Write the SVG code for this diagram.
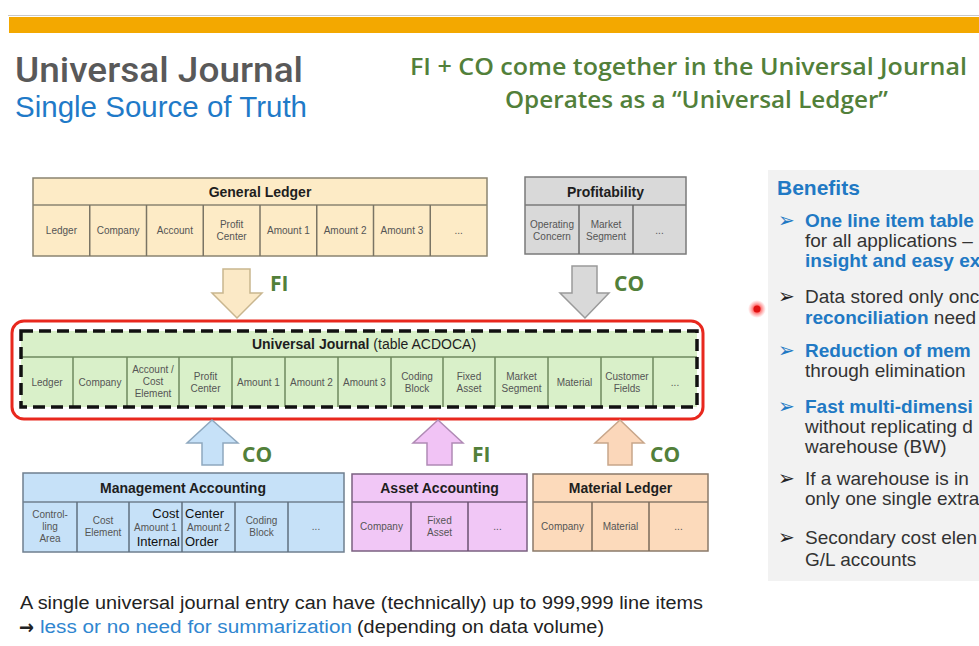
<svg xmlns="http://www.w3.org/2000/svg" width="979" height="646" viewBox="0 0 979 646">
<defs>
<style>
.f{font-family:"Liberation Sans",Arial,sans-serif}
.cell{font-family:"Liberation Sans",Arial,sans-serif;font-size:10px;fill:#555;text-anchor:middle}
.hdr{font-family:"Liberation Sans",Arial,sans-serif;font-size:14px;font-weight:bold;fill:#1e1e1e;text-anchor:middle}
.big{font-family:"Liberation Sans",Arial,sans-serif;font-size:13px;fill:#111}
.grn{font-family:"Open Sans","Liberation Sans",sans-serif;font-weight:600;fill:#52803a}
.lbl{font-family:"Open Sans","Liberation Sans",sans-serif;font-weight:bold;font-size:21px;fill:#52803a}
.ben{font-family:"Liberation Sans",Arial,sans-serif;font-size:19px;fill:#333}
.bb{font-weight:bold;fill:#2179c4}
.bul{font-family:"DejaVu Sans",sans-serif;font-size:20px}
.div{stroke-width:1.5}
</style>
<clipPath id="clipR"><rect x="0" y="0" width="979" height="646"/></clipPath>
<radialGradient id="dot"><stop offset="0" stop-color="#ff1010"/><stop offset="0.4" stop-color="#ff2a2a"/><stop offset="1" stop-color="#ff6060" stop-opacity="0"/></radialGradient>
</defs>
<rect width="979" height="646" fill="#ffffff"/>
<line x1="8" y1="15.5" x2="979" y2="15.5" stroke="#c8c8c8" stroke-width="1"/>
<rect x="9" y="17" width="970" height="16" fill="#f3a800"/>

<g id="title">
<text x="15" y="82" font-family="Roboto,'Liberation Sans',sans-serif" font-weight="500" font-size="35" fill="#595959" textLength="288" lengthAdjust="spacingAndGlyphs">Universal Journal</text>
<text class="f" x="15" y="117" font-size="30" fill="#1f7ac8" textLength="292" lengthAdjust="spacingAndGlyphs">Single Source of Truth</text>
<text class="grn" x="410" y="75" font-size="24" textLength="557" lengthAdjust="spacingAndGlyphs">FI + CO come together in the Universal Journal</text>
<text class="grn" x="505" y="108" font-size="24" textLength="383" lengthAdjust="spacingAndGlyphs">Operates as a “Universal Ledger”</text>
</g>

<g id="general-ledger">
<rect x="33" y="178" width="454" height="78" fill="#fdebc6" stroke="#8a8470" stroke-width="1.5"/>
<line x1="33" y1="205" x2="487" y2="205" stroke="#8a8470" class="div"/>
<g stroke="#7a7464" class="div">
<line x1="89.75" y1="205" x2="89.75" y2="256"/><line x1="146.5" y1="205" x2="146.5" y2="256"/>
<line x1="203.25" y1="205" x2="203.25" y2="256"/><line x1="260" y1="205" x2="260" y2="256"/>
<line x1="316.75" y1="205" x2="316.75" y2="256"/><line x1="373.5" y1="205" x2="373.5" y2="256"/>
<line x1="430.25" y1="205" x2="430.25" y2="256"/>
</g>
<text class="hdr" x="260" y="197">General Ledger</text>
<text class="cell" x="61.4" y="234">Ledger</text>
<text class="cell" x="118.1" y="234">Company</text>
<text class="cell" x="174.9" y="234">Account</text>
<text class="cell" x="231.6" y="228">Profit</text><text class="cell" x="231.6" y="240">Center</text>
<text class="cell" x="288.4" y="234">Amount 1</text>
<text class="cell" x="345.1" y="234">Amount 2</text>
<text class="cell" x="401.9" y="234">Amount 3</text>
<text class="cell" x="458.6" y="234">...</text>
</g>

<g id="profitability">
<rect x="525" y="177" width="161" height="77" fill="#d9d9d9" stroke="#7a7a7a" stroke-width="1.5"/>
<line x1="525" y1="205" x2="686" y2="205" stroke="#7a7a7a" class="div"/>
<line x1="579" y1="205" x2="579" y2="254" stroke="#6a6a6a" class="div"/>
<line x1="633" y1="205" x2="633" y2="254" stroke="#6a6a6a" class="div"/>
<text class="hdr" x="605.5" y="197">Profitability</text>
<text class="cell" x="552" y="228">Operating</text><text class="cell" x="552" y="240">Concern</text>
<text class="cell" x="606" y="228">Market</text><text class="cell" x="606" y="240">Segment</text>
<text class="cell" x="659.5" y="234">...</text>
</g>

<g id="universal-journal">
<rect x="12" y="321" width="691" height="98" rx="12" fill="#ffffff" stroke="#e8281e" stroke-width="3"/>
<rect x="21" y="331" width="676" height="76" fill="#d9f0c9"/>
<line x1="21" y1="357" x2="697" y2="357" stroke="#6e8a5e" class="div"/>
<g stroke="#6e8a5e" class="div">
<line x1="73" y1="357" x2="73" y2="407"/><line x1="127" y1="357" x2="127" y2="407"/>
<line x1="179" y1="357" x2="179" y2="407"/><line x1="232" y1="357" x2="232" y2="407"/>
<line x1="285" y1="357" x2="285" y2="407"/><line x1="338" y1="357" x2="338" y2="407"/>
<line x1="391" y1="357" x2="391" y2="407"/><line x1="443" y1="357" x2="443" y2="407"/>
<line x1="495" y1="357" x2="495" y2="407"/><line x1="548" y1="357" x2="548" y2="407"/>
<line x1="601" y1="357" x2="601" y2="407"/><line x1="653" y1="357" x2="653" y2="407"/>
</g>
<rect x="21" y="331" width="676" height="76" fill="none" stroke="#111" stroke-width="3.5" stroke-dasharray="12 6"/>
<text class="hdr" x="364" y="349">Universal Journal <tspan font-weight="normal">  (table ACDOCA)</tspan></text>
<text class="cell" x="47" y="386">Ledger</text>
<text class="cell" x="100" y="386">Company</text>
<text class="cell" x="153" y="373">Account /</text><text class="cell" x="153" y="385">Cost</text><text class="cell" x="153" y="397">Element</text>
<text class="cell" x="205.5" y="380">Profit</text><text class="cell" x="205.5" y="392">Center</text>
<text class="cell" x="258.5" y="386">Amount 1</text>
<text class="cell" x="311.5" y="386">Amount 2</text>
<text class="cell" x="364.5" y="386">Amount 3</text>
<text class="cell" x="417" y="380">Coding</text><text class="cell" x="417" y="392">Block</text>
<text class="cell" x="469" y="380">Fixed</text><text class="cell" x="469" y="392">Asset</text>
<text class="cell" x="521.5" y="380">Market</text><text class="cell" x="521.5" y="392">Segment</text>
<text class="cell" x="574.5" y="386">Material</text>
<text class="cell" x="627" y="380">Customer</text><text class="cell" x="627" y="392">Fields</text>
<text class="cell" x="675" y="386">...</text>
</g>

<g id="management-accounting">
<rect x="23" y="473" width="321" height="79" fill="#c6e1f8" stroke="#6f7f8f" stroke-width="1.5"/>
<line x1="23" y1="502" x2="344" y2="502" stroke="#6f7f8f" class="div"/>
<g stroke="#5f6f7f" class="div">
<line x1="77" y1="502" x2="77" y2="552"/><line x1="129" y1="502" x2="129" y2="552"/>
<line x1="182" y1="502" x2="182" y2="552"/><line x1="235" y1="502" x2="235" y2="552"/>
<line x1="288" y1="502" x2="288" y2="552"/>
</g>
<text class="hdr" x="183" y="493">Management Accounting</text>
<text class="cell" x="50" y="518">Control-</text><text class="cell" x="50" y="530">ling</text><text class="cell" x="50" y="542">Area</text>
<text class="cell" x="103" y="524">Cost</text><text class="cell" x="103" y="536">Element</text>
<text class="big" x="179" y="518" text-anchor="end">Cost</text>
<text class="cell" x="155.5" y="531">Amount 1</text>
<text class="big" x="180" y="546" text-anchor="end">Internal</text>
<text class="big" x="185" y="518">Center</text>
<text class="cell" x="208.5" y="531">Amount 2</text>
<text class="big" x="185" y="546">Order</text>
<text class="cell" x="261.5" y="524">Coding</text><text class="cell" x="261.5" y="536">Block</text>
<text class="cell" x="316" y="530">...</text>
</g>

<g id="asset-accounting">
<rect x="352" y="474" width="175" height="77" fill="#f1c7f6" stroke="#7a6080" stroke-width="1.5"/>
<line x1="352" y1="502" x2="527" y2="502" stroke="#7a6080" class="div"/>
<line x1="411" y1="502" x2="411" y2="551" stroke="#6a5070" class="div"/>
<line x1="468" y1="502" x2="468" y2="551" stroke="#6a5070" class="div"/>
<text class="hdr" x="439.5" y="493">Asset Accounting</text>
<text class="cell" x="381.5" y="530">Company</text>
<text class="cell" x="439.5" y="524">Fixed</text><text class="cell" x="439.5" y="536">Asset</text>
<text class="cell" x="497.5" y="530">...</text>
</g>

<g id="material-ledger">
<rect x="533" y="474" width="175" height="77" fill="#fcdabb" stroke="#8a7a6a" stroke-width="1.5"/>
<line x1="533" y1="502" x2="708" y2="502" stroke="#8a7a6a" class="div"/>
<line x1="592" y1="502" x2="592" y2="551" stroke="#7a6a5a" class="div"/>
<line x1="649" y1="502" x2="649" y2="551" stroke="#7a6a5a" class="div"/>
<text class="hdr" x="620.5" y="493">Material  Ledger</text>
<text class="cell" x="562.5" y="530">Company</text>
<text class="cell" x="620.5" y="530">Material</text>
<text class="cell" x="678.5" y="530">...</text>
</g>

<g id="connectors">
<polygon points="223,269 250,269 250,293 262,293 237,318 212,293 223,293" fill="#fbe9c6" stroke="#c9b68f" stroke-width="1.5"/>
<text class="lbl" x="270" y="291">FI</text>
<polygon points="572,266 597,266 597,293 609,293 585,318 560,293 572,293" fill="#d9d9d9" stroke="#9a9a9a" stroke-width="1.5"/>
<text class="lbl" x="614" y="291">CO</text>
<polygon points="212,420 238,443 223,443 223,465 202,465 202,443 187,443" fill="#c6e1f8" stroke="#8ea8bf" stroke-width="1.5"/>
<text class="lbl" x="242" y="462">CO</text>
<polygon points="438,420 463,443 452,443 452,465 427,465 427,443 413,443" fill="#f1c3f5" stroke="#b08ab5" stroke-width="1.5"/>
<text class="lbl" x="472" y="462">FI</text>
<polygon points="620,420 644,443 632,443 632,465 608,465 608,443 595,443" fill="#fbd7ba" stroke="#c8a68a" stroke-width="1.5"/>
<text class="lbl" x="650" y="462">CO</text>
</g>

<g id="benefits" clip-path="url(#clipR)">
<rect x="768" y="170" width="215" height="411" fill="#f2f2f2"/>
<text class="f" x="777" y="195" font-size="21" font-weight="bold" fill="#2179c4">Benefits</text>
<text class="bul" x="778" y="227" fill="#2179c4">➢</text>
<text class="ben bb" x="805" y="227">One line item table</text>
<text class="ben" x="805" y="247">for all applications –</text>
<text class="ben bb" x="805" y="267">insight and easy ex</text>
<text class="bul" x="778" y="303" fill="#222">➢</text>
<text class="ben" x="805" y="303">Data stored only onc</text>
<text class="ben" x="805" y="324"><tspan class="bb">reconciliation</tspan> need</text>
<text class="bul" x="778" y="357" fill="#2179c4">➢</text>
<text class="ben bb" x="805" y="357">Reduction of mem</text>
<text class="ben" x="805" y="377">through elimination</text>
<text class="bul" x="778" y="413" fill="#2179c4">➢</text>
<text class="ben bb" x="805" y="413">Fast multi-dimensi</text>
<text class="ben" x="805" y="433">without replicating d</text>
<text class="ben" x="805" y="453">warehouse (BW)</text>
<text class="bul" x="778" y="485" fill="#222">➢</text>
<text class="ben" x="805" y="485">If a warehouse is in</text>
<text class="ben" x="805" y="505">only one single extra</text>
<text class="bul" x="778" y="544" fill="#222">➢</text>
<text class="ben" x="805" y="544">Secondary cost elen</text>
<text class="ben" x="805" y="566">G/L accounts</text>
</g>

<circle cx="757" cy="309" r="9" fill="url(#dot)" opacity="0.7"/>
<circle cx="757" cy="309" r="3.5" fill="#e01010"/>

<g id="footer">
<text class="f" x="20" y="609" font-size="18" fill="#222" textLength="683" lengthAdjust="spacingAndGlyphs">A single universal journal entry can have (technically) up to 999,999 line items</text>
<text x="19" y="634" font-family="'DejaVu Sans',sans-serif" font-weight="bold" font-size="20" fill="#222" textLength="15" lengthAdjust="spacingAndGlyphs">→</text>
<text class="f" x="40" y="633" font-size="18" fill="#2f86d0" textLength="312" lengthAdjust="spacingAndGlyphs">less or no need for summarization</text>
<text class="f" x="357" y="633" font-size="18" fill="#222" textLength="247" lengthAdjust="spacingAndGlyphs">(depending on data volume)</text>
</g>
</svg>
